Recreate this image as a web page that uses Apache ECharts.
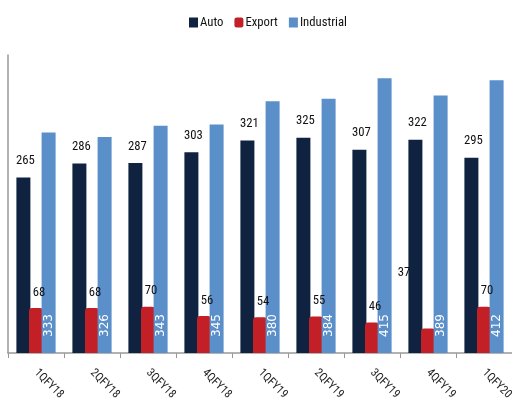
<!DOCTYPE html>
<html><head><meta charset="utf-8">
<script src="https://cdn.jsdelivr.net/npm/echarts@6/dist/echarts.min.js"></script>
<style>html,body{margin:0;padding:0;background:#fff;overflow:hidden}#c{width:512px;height:405px}</style>
</head><body><div id="c"></div>
<script>
var categories = ['1QFY18','2QFY18','3QFY18','4QFY18','1QFY19','2QFY19','3QFY19','4QFY19','1QFY20'];
var autoValues = [265,286,287,303,321,325,307,322,295];
var exportValues = [68,68,70,56,54,55,46,37,70];
var industrialValues = [333,326,343,345,380,384,415,389,412];

var ctx = document.createElement('canvas').getContext('2d');
var sample = '265 Industrial';
function widthOf(fam){ ctx.font = '14px ' + fam; return ctx.measureText(sample).width; }
var mono = widthOf('monospace'), serif = widthOf('serif');
var best = null, bestW = Infinity;
['Liberation Sans Narrow','Noto Sans Condensed','Noto Sans SemiCondensed','DejaVu Sans Condensed','Roboto Condensed','Open Sans Condensed','Arial Narrow','Liberation Sans'].forEach(function(n){
  var w1 = widthOf('"' + n + '", monospace'), w2 = widthOf('"' + n + '", serif');
  if (w1 !== mono || w2 !== serif) { if (w1 < bestW - 0.5) { bestW = w1; best = n; } }
});
var narrow = best ? '"' + best + '", sans-serif' : 'sans-serif';
var target = 68.9;
var fs = Math.max(11.5, Math.min(14, 14 * target / bestW));

var chart = echarts.init(document.getElementById('c'), null, {renderer:'canvas'});
var exportData = exportValues.map(function(v, i){
  if (i === 7) return {value: v, label: {offset: [-24, -40]}};
  return v;
});
chart.setOption({
  animation: false,
  legend: {
    top: 11, left: 184, itemWidth: 9, itemHeight: 10, itemGap: 11,
    textStyle: {fontFamily: narrow, fontSize: fs, color: '#111', padding: [0,0,0,-3]},
    data: [{name:'Auto', icon:'rect'}, {name:'Export', icon:'roundRect'}, {name:'Industrial', icon:'rect'}]
  },
  grid: {left: 8, right: 0, top: 55, bottom: 52, containLabel: false, outerBoundsMode: 'none'},
  xAxis: {
    type: 'category', data: categories,
    axisLine: {lineStyle: {color: '#999', width: 1.5}},
    axisTick: {show: true, length: 5, lineStyle: {color: '#999'}},
    axisLabel: {rotate: -45, fontFamily: narrow, fontSize: fs - 1, color: '#222', margin: 18, hideOverlap: false}
  },
  yAxis: {
    type: 'value', min: 0, max: 450,
    axisLine: {show: true, lineStyle: {color: '#999', width: 1.5}},
    axisTick: {show: false}, axisLabel: {show: false}, splitLine: {show: false}
  },
  series: [
    {name: 'Auto', type: 'bar', data: autoValues, barWidth: 14, barGap: '-10%',
     itemStyle: {color: '#0F2340'},
     label: {show: true, position: 'top', distance: 10, fontFamily: narrow, fontSize: fs, color: '#111', offset: [2,0]}},
    {name: 'Export', type: 'bar', data: exportData, barWidth: 14,
     itemStyle: {color: '#C21F26', borderRadius: [3,3,0,0]},
     label: {show: true, position: 'top', distance: 9, fontFamily: narrow, fontSize: fs, color: '#111', offset: [3,0]}},
    {name: 'Industrial', type: 'bar', data: industrialValues, barWidth: 14,
     itemStyle: {color: '#5A8FCA'},
     label: {show: true, position: 'insideBottom', rotate: 90, align: 'left', verticalAlign: 'middle', distance: 16,
             fontFamily: '"DejaVu Sans", sans-serif', fontSize: 12, color: '#fff'}}
  ]
});
</script></body></html>
